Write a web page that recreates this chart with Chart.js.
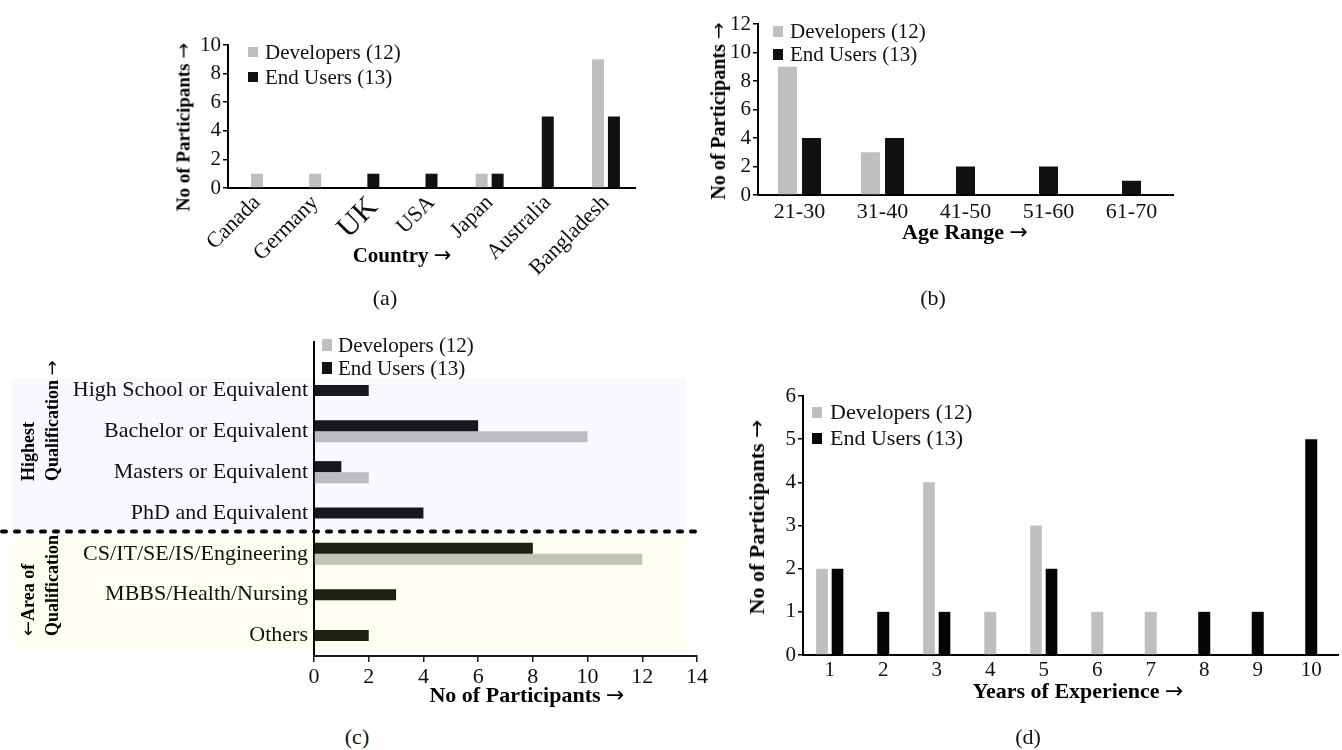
<!DOCTYPE html>
<html>
<head>
<meta charset="utf-8">
<title>Participant demographics</title>
<script src="https://cdn.jsdelivr.net/npm/chart.js@4.4.0/dist/chart.umd.min.js"></script>
<style>
  html, body { margin: 0; padding: 0; background: #fff; }
  #fig { position: relative; width: 1342px; height: 750px; overflow: hidden;
         font-family: "Liberation Serif", "Times New Roman", serif; color: #111; }
  .panel { position: absolute; }
  .txt { position: absolute; white-space: nowrap; line-height: 1; }
  .swatch { position: absolute; }
  .arrow { font-family: "DejaVu Sans", sans-serif; font-weight: normal; }
</style>
</head>
<body>
<div id="fig"></div>
<script>
// ---- data ---------------------------------------------------------------
const seriesNames = ['Developers (12)', 'End Users (13)'];

const countryLabels = ['Canada', 'Germany', 'UK', 'USA', 'Japan', 'Australia', 'Bangladesh'];
const countryDevelopers = [1, 1, null, null, 1, null, 9];
const countryEndUsers   = [null, null, 1, 1, 1, 5, 5];

const ageLabels = ['21-30', '31-40', '41-50', '51-60', '61-70'];
const ageDevelopers = [9, 3, null, null, null];
const ageEndUsers   = [4, 4, 2, 2, 1];

const qualificationLabels = ['High School or Equivalent', 'Bachelor or Equivalent', 'Masters or Equivalent',
  'PhD and Equivalent', 'CS/IT/SE/IS/Engineering', 'MBBS/Health/Nursing', 'Others'];
const qualificationDevelopers = [null, 10, 2, null, 12, null, null];
const qualificationEndUsers   = [2, 6, 1, 4, 8, 3, 2];
const highestQualificationCount = 4;   // first rows: highest qualification, rest: area

const experienceLabels = ['1', '2', '3', '4', '5', '6', '7', '8', '9', '10'];
const experienceDevelopers = [2, null, 4, 1, 3, 1, 1, null, null, null];
const experienceEndUsers   = [2, 1, 1, null, 2, null, null, 1, 1, 5];

// ---- styling ------------------------------------------------------------
const GRAY = '#bfbfbf';
const DARK = '#111111';
const SERIF = "'Liberation Serif', 'Times New Roman', serif";
Chart.defaults.font.family = SERIF;
Chart.defaults.color = '#111';
Chart.defaults.animation = false;

const fig = document.getElementById('fig');

function placeCanvas(box) {
  const wrap = document.createElement('div');
  wrap.className = 'panel';
  Object.assign(wrap.style, { left: box.left + 'px', top: box.top + 'px',
    width: box.width + 'px', height: box.height + 'px' });
  const cv = document.createElement('canvas');
  cv.width = box.width; cv.height = box.height;
  cv.style.width = box.width + 'px'; cv.style.height = box.height + 'px';
  wrap.appendChild(cv);
  fig.appendChild(wrap);
  return cv;
}

// writes text into el, giving arrow glyphs their own font
function fillWithArrows(el, str) {
  str.split(/([\u2190-\u2193])/).forEach(part => {
    if (!part) return;
    if (/[\u2190-\u2193]/.test(part)) {
      const a = document.createElement('span');
      a.className = 'arrow';
      a.textContent = part;
      el.appendChild(a);
    } else {
      el.appendChild(document.createTextNode(part));
    }
  });
}

function addText(str, x, y, o) {
  const d = document.createElement('div');
  d.className = 'txt';
  fillWithArrows(d, str);
  d.style.left = x + 'px';
  d.style.top = y + 'px';
  d.style.fontSize = o.size + 'px';
  if (o.bold) d.style.fontWeight = 'bold';
  if (o.color) d.style.color = o.color;
  d.style.transform = o.rotate ? 'translate(-50%,-50%) rotate(-90deg)' : 'translate(-50%,-50%)';
  fig.appendChild(d);
  return d;
}

// multi-line label rotated to read bottom-to-top, lines starting at (x, y)
function addRotatedBlock(lines, x, y, size, lh) {
  const d = document.createElement('div');
  d.className = 'txt';
  d.style.left = x + 'px';
  d.style.top = y + 'px';
  d.style.fontSize = size + 'px';
  d.style.fontWeight = 'bold';
  d.style.lineHeight = lh + 'px';
  d.style.textAlign = 'left';
  d.style.color = '#000';
  d.style.transformOrigin = '0 0';
  d.style.transform = 'rotate(-90deg)';
  lines.forEach((s, i) => {
    if (i) d.appendChild(document.createElement('br'));
    fillWithArrows(d, s);
  });
  fig.appendChild(d);
}

function addLegend(chart, order, x, rowsY, textX, size, sw) {
  order.forEach((di, i) => {
    const ds = chart.data.datasets[di];
    const s = document.createElement('div');
    s.className = 'swatch';
    const col = typeof ds.legendColor === 'string' ? ds.legendColor : ds.backgroundColor;
    Object.assign(s.style, { left: x + 'px', top: (rowsY[i] - sw.h / 2) + 'px',
      width: sw.w + 'px', height: sw.h + 'px', background: col });
    fig.appendChild(s);
    const t = document.createElement('div');
    t.className = 'txt';
    t.textContent = ds.label;
    Object.assign(t.style, { left: textX + 'px', top: rowsY[i] + 'px', fontSize: size + 'px',
      transform: 'translateY(-50%)' });
    fig.appendChild(t);
  });
}

function paddingFor(box, area) {
  return { left: 0, bottom: 0, top: area.top - box.top, right: box.left + box.width - area.right };
}

function columnChart(box, area, labels, dev, end, o) {
  const cv = placeCanvas(box);
  const barOpts = { skipNull: true, barPercentage: o.bp, categoryPercentage: o.cp,
                    maxBarThickness: o.barMax, borderWidth: 0 };
  return new Chart(cv, {
    type: 'bar',
    data: {
      labels: labels,
      datasets: [
        Object.assign({ label: seriesNames[0], data: dev, backgroundColor: GRAY }, barOpts),
        Object.assign({ label: seriesNames[1], data: end, backgroundColor: o.dark || DARK }, barOpts)
      ]
    },
    options: {
      responsive: false,
      animation: false,
      layout: { autoPadding: false, padding: paddingFor(box, area) },
      plugins: { legend: { display: false }, tooltip: { enabled: false } },
      scales: {
        x: {
          grid: { display: false, drawTicks: false },
          border: { display: true, color: '#000', width: 2 },
          ticks: Object.assign({ autoSkip: false, color: '#111', padding: o.xPad,
            font: o.xFont }, o.xTicks || {}),
          afterFit: s => { s.height = box.top + box.height - area.bottom; }
        },
        y: {
          min: 0, max: o.max,
          ticks: { stepSize: o.step, padding: 2, color: '#111', font: { size: o.yFontSize } },
          grid: { display: true, drawOnChartArea: false, drawTicks: true, tickLength: 5,
                  color: '#000', lineWidth: 1.5 },
          border: { display: true, color: '#000', width: 2 },
          afterFit: s => { s.width = area.left - box.left; }
        }
      }
    }
  });
}

// ---- (a) country --------------------------------------------------------
const boxA = { left: 150, top: 20, width: 510, height: 270 };
const areaA = { left: 228, top: 45, right: 635, bottom: 188 };
const chartA = columnChart(boxA, areaA, countryLabels, countryDevelopers, countryEndUsers, {
  bp: 0.75, cp: 0.55, barMax: 12, max: 10, step: 2, yFontSize: 21, xPad: 2,
  xFont: ctx => ({ family: SERIF, size: ctx.tick && ctx.tick.label === 'UK' ? 30 : 22 }),
  xTicks: { minRotation: 45, maxRotation: 45 }
});
addLegend(chartA, [0, 1], 248, [52, 77], 265, 21, { w: 10, h: 10 });
addText('No of Participants \u2192', 183, 127, { size: 19, bold: true, rotate: true, color: '#000' });
addText('Country \u2192', 402, 255, { size: 21, bold: true, color: '#000' });
addText('(a)', 385, 298, { size: 22 });

// ---- (b) age range ------------------------------------------------------
const boxB = { left: 700, top: 5, width: 490, height: 230 };
const areaB = { left: 758, top: 24, right: 1173, bottom: 195 };
const chartB = columnChart(boxB, areaB, ageLabels, ageDevelopers, ageEndUsers, {
  bp: 0.79, cp: 0.58, barMax: 19, max: 12, step: 2, yFontSize: 21, xPad: 4,
  xFont: { family: SERIF, size: 22 }, xTicks: { maxRotation: 0, minRotation: 0 }
});
addLegend(chartB, [0, 1], 773, [31, 54], 790, 21, { w: 10, h: 11 });
addText('No of Participants \u2192', 718, 111, { size: 20, bold: true, rotate: true, color: '#000' });
addText('Age Range \u2192', 965, 232, { size: 22, bold: true, color: '#000' });
addText('(b)', 933, 298, { size: 22 });

// ---- (c) qualification (horizontal) ---------------------------------------
const boxC = { left: 0, top: 325, width: 712, height: 380 };
const areaC = { left: 314, top: 370, right: 697, bottom: 656 };
const qualColors = {
  dark: ctx => ctx.dataIndex < highestQualificationCount ? '#17181c' : '#1f1f12',
  gray: ctx => ctx.dataIndex < highestQualificationCount ? '#bcbdc1' : '#c3c4b8'
};

const qualificationBands = {
  id: 'qualificationBands',
  beforeDraw(chart) {
    const { ctx, chartArea } = chart;
    const y = chart.scales.y;
    const half = (y.getPixelForValue(1) - y.getPixelForValue(0)) / 2;
    const split = (y.getPixelForValue(highestQualificationCount - 1) +
                   y.getPixelForValue(highestQualificationCount)) / 2;
    const firstTop = y.getPixelForValue(0) - half;
    const lastBottom = y.getPixelForValue(qualificationLabels.length - 1) + half;
    const bandLeft = 12, bandRight = chartArea.right - 11;
    ctx.save();
    ctx.fillStyle = '#f7f9fe';
    ctx.fillRect(bandLeft, firstTop + 8, bandRight - bandLeft, split - 5 - (firstTop + 8));
    ctx.fillStyle = '#fefef1';
    ctx.fillRect(bandLeft, split + 2, bandRight - bandLeft + 1, lastBottom - 6 - (split + 2));
    ctx.restore();
  },
  afterDraw(chart) {
    const { ctx, chartArea } = chart;
    const y = chart.scales.y;
    const split = (y.getPixelForValue(highestQualificationCount - 1) +
                   y.getPixelForValue(highestQualificationCount)) / 2;
    ctx.save();
    // dashed divider between the two groups
    ctx.strokeStyle = '#000';
    ctx.lineWidth = 4;
    ctx.lineCap = 'round';
    ctx.setLineDash([4, 9]);
    ctx.beginPath();
    ctx.moveTo(2, split - 2);
    ctx.lineTo(chartArea.right + 3, split - 2);
    ctx.stroke();
    // value axis line continues up beside the legend
    ctx.setLineDash([]);
    ctx.lineCap = 'butt';
    ctx.lineWidth = 2;
    ctx.beginPath();
    ctx.moveTo(chartArea.left, chartArea.top - 29);
    ctx.lineTo(chartArea.left, chartArea.top);
    ctx.stroke();
    ctx.restore();
  }
};

const cvC = placeCanvas(boxC);
const barC = { skipNull: true, barPercentage: 1.0, categoryPercentage: 0.54, maxBarThickness: 11, borderWidth: 0 };
const chartC = new Chart(cvC, {
  type: 'bar',
  data: {
    labels: qualificationLabels,
    datasets: [
      Object.assign({ label: seriesNames[1], data: qualificationEndUsers,
        backgroundColor: qualColors.dark, legendColor: DARK }, barC),
      Object.assign({ label: seriesNames[0], data: qualificationDevelopers,
        backgroundColor: qualColors.gray, legendColor: GRAY }, barC)
    ]
  },
  options: {
    indexAxis: 'y',
    responsive: false,
    animation: false,
    layout: { autoPadding: false, padding: paddingFor(boxC, areaC) },
    plugins: { legend: { display: false }, tooltip: { enabled: false } },
    scales: {
      y: {
        grid: { display: false, drawTicks: false },
        border: { display: true, color: '#000', width: 2 },
        ticks: { autoSkip: false, padding: 6, color: '#111', font: { size: 22 } },
        afterFit: s => { s.width = areaC.left - boxC.left; }
      },
      x: {
        min: 0, max: 14,
        ticks: { stepSize: 2, padding: 2, color: '#111', font: { size: 22 } },
        grid: { display: true, drawOnChartArea: false, drawTicks: true, tickLength: 6,
                color: '#1e1e12', lineWidth: 1.5 },
        border: { display: true, color: '#1e1e12', width: 2 },
        afterFit: s => { s.height = boxC.top + boxC.height - areaC.bottom; }
      }
    }
  },
  plugins: [qualificationBands]
});
addLegend(chartC, [1, 0], 322, [345, 368], 338, 21, { w: 10, h: 12 });
addRotatedBlock(['Highest', 'Qualification \u2192'], 16, 481, 18, 24);
addRotatedBlock(['\u2190Area of', 'Qualification'], 16, 636, 18, 24);
addText('No of Participants \u2192', 527, 695, { size: 22, bold: true, color: '#000' });
addText('(c)', 357, 737, { size: 22 });

// ---- (d) years of experience ----------------------------------------------
const boxD = { left: 740, top: 380, width: 602, height: 320 };
const areaD = { left: 803, top: 396, right: 1338, bottom: 655 };
const chartD = columnChart(boxD, areaD, experienceLabels, experienceDevelopers, experienceEndUsers, {
  bp: 0.75, cp: 0.58, barMax: 12, max: 6, step: 1, yFontSize: 21, xPad: 3, dark: '#050505',
  xFont: { family: SERIF, size: 21 }, xTicks: { maxRotation: 0, minRotation: 0 }
});
addLegend(chartD, [0, 1], 812, [412, 438], 830, 22, { w: 10, h: 11 });
addText('No of Participants \u2192', 757, 517, { size: 22, bold: true, rotate: true, color: '#000' });
addText('Years of Experience \u2192', 1078, 691, { size: 22, bold: true, color: '#000' });
addText('(d)', 1028, 737, { size: 22 });
</script>
</body>
</html>
